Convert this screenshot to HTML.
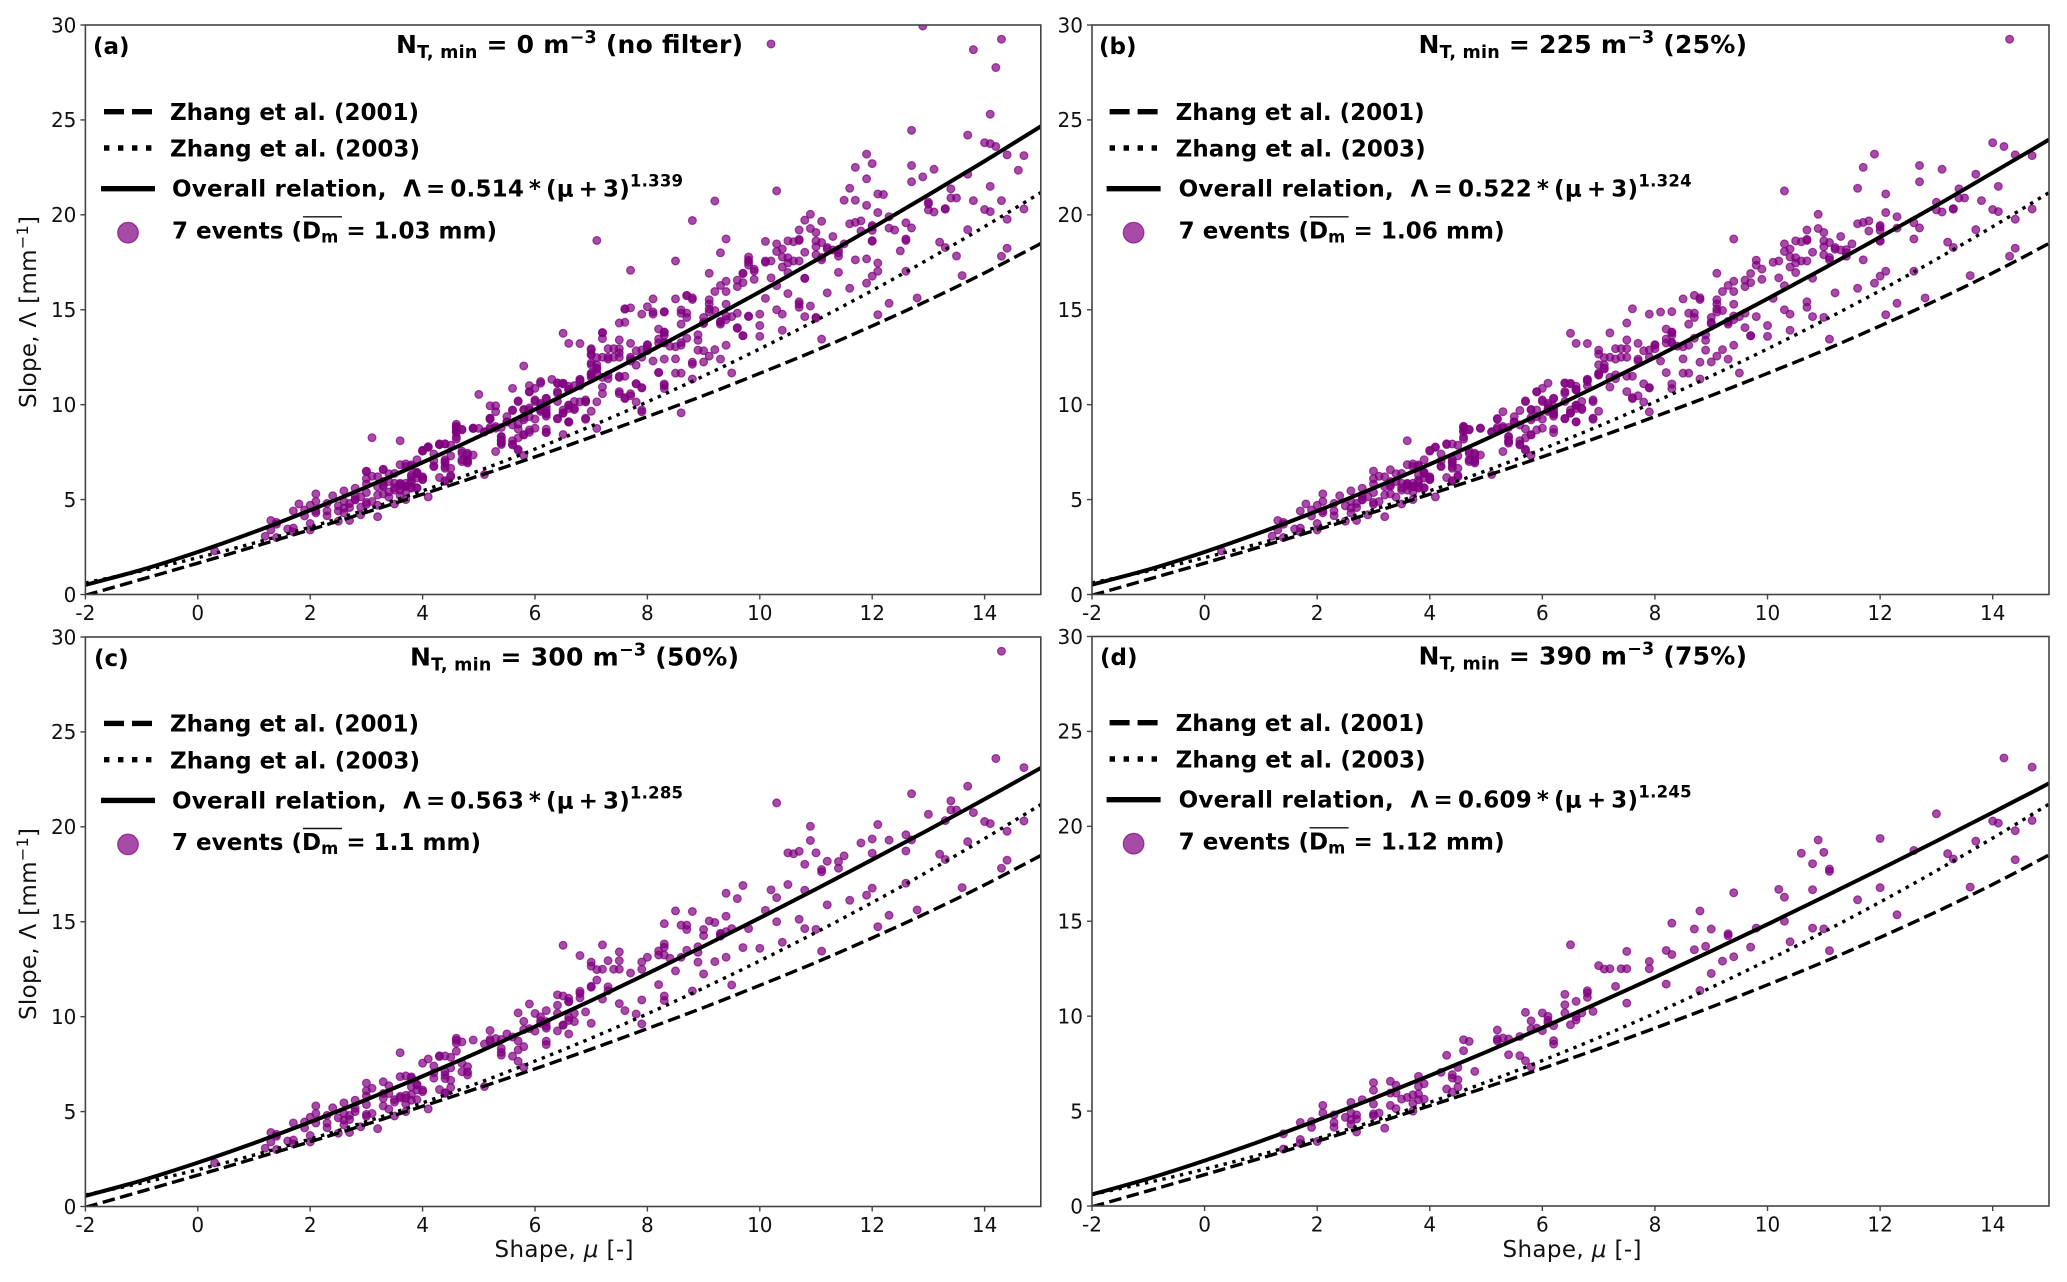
<!DOCTYPE html>
<html lang="en">
<head>
<meta charset="utf-8">
<title>Slope versus shape relations, four filter thresholds</title>
<style>
html,body{margin:0;padding:0;background:#fff;}
svg{display:block;font-family:"DejaVu Sans","Liberation Sans",sans-serif;}
.tick{font-size:20px;fill:#111;}
.axis-title{font-size:23px;fill:#111;}
.title{font-size:25px;font-weight:bold;fill:#000;}
.leg{font-size:23px;font-weight:bold;fill:#000;}
</style>
</head>
<body>
<svg id="figure" xmlns="http://www.w3.org/2000/svg" width="2067" height="1282" viewBox="0 0 2067 1282">
<rect width="2067" height="1282" fill="#fff"/>

<g id="panel-a">
  <g class="plot"></g>
  <text class="leg" x="93" y="54" font-size="22">(a)</text>
  <text class="title" x="396" y="53" textLength="347">N<tspan dy="5" font-size="17.5">T, min</tspan><tspan dy="-5"> = 0 m</tspan><tspan dy="-10" font-size="17.5">−3</tspan><tspan dy="10"> (no filter)</tspan></text>
  <g>
    <line x1="104" x2="153" y1="111.7" y2="111.7" stroke="#000" stroke-width="5.4" stroke-dasharray="20 8"/>
    <text class="leg" x="170" y="120" textLength="249">Zhang et al. (2001)</text>
    <line x1="104" x2="153" y1="148" y2="148" stroke="#000" stroke-width="5.4" stroke-dasharray="5.4 8.6"/>
    <text class="leg" x="170" y="156.7" textLength="250">Zhang et al. (2003)</text>
    <line x1="101" x2="155" y1="188.7" y2="188.7" stroke="#000" stroke-width="5.4"/>
    <text class="leg" x="172" y="196.7" textLength="511">Overall relation,&#160;&#160;Λ&#8201;=&#8201;0.514&#8201;*&#8201;(μ&#8201;+&#8201;3)<tspan dy="-10" font-size="16.5">1.339</tspan></text>
    <circle cx="128" cy="232.7" r="10.3" fill="#800080" fill-opacity="0.7" stroke="#800080" stroke-opacity="0.7" stroke-width="1.2"/>
    <text class="leg" x="172" y="238.3" textLength="325">7 events (D<tspan dy="4" font-size="16.5">m</tspan><tspan dy="-4"> = 1.03 mm)</tspan></text>
    <line x1="303" x2="342" y1="216.8" y2="216.8" stroke="#111" stroke-width="1.4"/>
  </g>
</g>

<g id="panel-b">
  <g class="plot"></g>
  <text class="leg" x="1099" y="54" font-size="22">(b)</text>
  <text class="title" x="1418.5" y="53" textLength="328.5">N<tspan dy="5" font-size="17.5">T, min</tspan><tspan dy="-5"> = 225 m</tspan><tspan dy="-10" font-size="17.5">−3</tspan><tspan dy="10"> (25%)</tspan></text>
  <g transform="translate(1005.6,0)">
    <line x1="104" x2="153" y1="111.7" y2="111.7" stroke="#000" stroke-width="5.4" stroke-dasharray="20 8"/>
    <text class="leg" x="170" y="120" textLength="249">Zhang et al. (2001)</text>
    <line x1="104" x2="153" y1="148" y2="148" stroke="#000" stroke-width="5.4" stroke-dasharray="5.4 8.6"/>
    <text class="leg" x="170" y="156.7" textLength="250">Zhang et al. (2003)</text>
    <line x1="101" x2="155" y1="188.7" y2="188.7" stroke="#000" stroke-width="5.4"/>
    <text class="leg" x="173" y="196.7" textLength="513">Overall relation,&#160;&#160;Λ&#8201;=&#8201;0.522&#8201;*&#8201;(μ&#8201;+&#8201;3)<tspan dy="-10" font-size="16.5">1.324</tspan></text>
    <circle cx="128" cy="232.7" r="10.3" fill="#800080" fill-opacity="0.7" stroke="#800080" stroke-opacity="0.7" stroke-width="1.2"/>
    <text class="leg" x="173" y="238.3" textLength="326">7 events (D<tspan dy="4" font-size="16.5">m</tspan><tspan dy="-4"> = 1.06 mm)</tspan></text>
    <line x1="304" x2="343" y1="216.8" y2="216.8" stroke="#111" stroke-width="1.4"/>
  </g>
</g>

<g id="panel-c">
  <g class="plot"></g>
  <text class="leg" x="94" y="666" font-size="22">(c)</text>
  <text class="title" x="410" y="665.5" textLength="329">N<tspan dy="5" font-size="17.5">T, min</tspan><tspan dy="-5"> = 300 m</tspan><tspan dy="-10" font-size="17.5">−3</tspan><tspan dy="10"> (50%)</tspan></text>
  <g transform="translate(0,611.7)">
    <line x1="104" x2="153" y1="111.7" y2="111.7" stroke="#000" stroke-width="5.4" stroke-dasharray="20 8"/>
    <text class="leg" x="170" y="120" textLength="249">Zhang et al. (2001)</text>
    <line x1="104" x2="153" y1="148" y2="148" stroke="#000" stroke-width="5.4" stroke-dasharray="5.4 8.6"/>
    <text class="leg" x="170" y="156.7" textLength="250">Zhang et al. (2003)</text>
    <line x1="101" x2="155" y1="188.7" y2="188.7" stroke="#000" stroke-width="5.4"/>
    <text class="leg" x="172" y="196.7" textLength="511">Overall relation,&#160;&#160;Λ&#8201;=&#8201;0.563&#8201;*&#8201;(μ&#8201;+&#8201;3)<tspan dy="-10" font-size="16.5">1.285</tspan></text>
    <circle cx="128" cy="232.7" r="10.3" fill="#800080" fill-opacity="0.7" stroke="#800080" stroke-opacity="0.7" stroke-width="1.2"/>
    <text class="leg" x="172" y="238.3" textLength="309">7 events (D<tspan dy="4" font-size="16.5">m</tspan><tspan dy="-4"> = 1.1 mm)</tspan></text>
    <line x1="303" x2="342" y1="216.8" y2="216.8" stroke="#111" stroke-width="1.4"/>
  </g>
</g>

<g id="panel-d">
  <g class="plot"></g>
  <text class="leg" x="1100" y="665" font-size="22">(d)</text>
  <text class="title" x="1418.5" y="664.5" textLength="328.5">N<tspan dy="5" font-size="17.5">T, min</tspan><tspan dy="-5"> = 390 m</tspan><tspan dy="-10" font-size="17.5">−3</tspan><tspan dy="10"> (75%)</tspan></text>
  <g transform="translate(1005.6,611)">
    <line x1="104" x2="153" y1="111.7" y2="111.7" stroke="#000" stroke-width="5.4" stroke-dasharray="20 8"/>
    <text class="leg" x="170" y="120" textLength="249">Zhang et al. (2001)</text>
    <line x1="104" x2="153" y1="148" y2="148" stroke="#000" stroke-width="5.4" stroke-dasharray="5.4 8.6"/>
    <text class="leg" x="170" y="156.7" textLength="250">Zhang et al. (2003)</text>
    <line x1="101" x2="155" y1="188.7" y2="188.7" stroke="#000" stroke-width="5.4"/>
    <text class="leg" x="173" y="196.7" textLength="513">Overall relation,&#160;&#160;Λ&#8201;=&#8201;0.609&#8201;*&#8201;(μ&#8201;+&#8201;3)<tspan dy="-10" font-size="16.5">1.245</tspan></text>
    <circle cx="128" cy="232.7" r="10.3" fill="#800080" fill-opacity="0.7" stroke="#800080" stroke-opacity="0.7" stroke-width="1.2"/>
    <text class="leg" x="173" y="238.3" textLength="326">7 events (D<tspan dy="4" font-size="16.5">m</tspan><tspan dy="-4"> = 1.12 mm)</tspan></text>
    <line x1="304" x2="343" y1="216.8" y2="216.8" stroke="#111" stroke-width="1.4"/>
  </g>
</g>

<text class="axis-title" transform="translate(36,312) rotate(-90)" text-anchor="middle" textLength="192">Slope, Λ [mm<tspan dy="-8" font-size="16">−1</tspan><tspan dy="8">]</tspan></text>
<text class="axis-title" transform="translate(36,924) rotate(-90)" text-anchor="middle" textLength="192">Slope, Λ [mm<tspan dy="-8" font-size="16">−1</tspan><tspan dy="8">]</tspan></text>
<text class="axis-title" x="564" y="1257" text-anchor="middle" textLength="139">Shape, <tspan font-style="italic">μ</tspan> [-]</text>
<text class="axis-title" x="1572" y="1257" text-anchor="middle" textLength="139">Shape, <tspan font-style="italic">μ</tspan> [-]</text>
</svg>

<script>
// Tick values and labels
const xTicks = [-2, 0, 2, 4, 6, 8, 10, 12, 14];
const xTickLabels = ['-2', '0', '2', '4', '6', '8', '10', '12', '14'];
const yTicks = [0, 5, 10, 15, 20, 25, 30];
const yTickLabels = ['0', '5', '10', '15', '20', '25', '30'];

// Curve values, sampled at each integer shape value
const curveMu = [-2,-1,0,1,2,3,4,5,6,7,8,9,10,11,12,13,14,15];
const zhang2001 = [-0.04,0.80,1.65,2.52,3.41,4.33,5.28,6.25,7.25,8.29,9.37,10.48,11.65,12.86,14.15,15.50,16.94,18.49];
const zhang2003 = [0.61,1.24,1.94,2.71,3.55,4.47,5.46,6.52,7.66,8.87,10.15,11.51,12.94,14.44,16.01,17.66,19.38,21.17];
const overallA = [0.51,1.30,2.24,3.29,4.44,5.66,6.96,8.32,9.75,11.22,12.75,14.33,15.94,17.61,19.31,21.05,22.83,24.66];
const overallB = [0.52,1.31,2.24,3.27,4.40,5.60,6.86,8.19,9.57,11.01,12.49,14.01,15.58,17.18,18.83,20.49,22.22,23.96];
const overallC = [0.56,1.37,2.31,3.34,4.45,5.63,6.86,8.14,9.48,10.85,12.27,13.71,15.20,16.72,18.27,19.84,21.46,23.10];
const overallD = [0.61,1.44,2.39,3.42,4.52,5.67,6.87,8.11,9.39,10.71,12.05,13.43,14.84,16.28,17.74,19.22,20.73,22.26];

// Scatter points [shape, slope], grouped by the strictest filter they survive
const pointsInAllPanels = [
[1.4,3.8],[1.4,3.0],[1.7,4.4],[1.7,3.5],[1.7,3.3],[1.9,4.45],[1.9,4.14],[2.0,3.4],[2.1,5.3],[2.1,4.9],[2.3,4.8],[2.3,4.4],[2.3,4.15],[2.5,4.67],[2.6,5.46],[2.6,4.9],[2.6,4.55],[2.6,4.3],[2.7,4.8],[2.7,4.58],[2.7,3.9],[2.8,5.6],
[3.0,6.5],[3.0,6.1],[3.0,5.37],[3.0,4.85],[3.0,4.75],[3.1,4.9],[3.2,4.1],[3.3,6.57],[3.3,5.95],[3.3,5.3],[3.4,6.36],[3.4,5.95],[3.4,5.13],[3.5,5.63],[3.6,5.72],[3.7,5.86],[3.7,5.4],[3.7,5.0],[3.8,6.83],[3.8,6.3],[3.8,5.9],[3.8,5.6],[3.9,6.44],[3.9,5.63],
[4.2,7.04],[4.3,7.94],[4.3,6.16],[4.4,6.92],[4.4,6.74],[4.4,6.0],[4.5,7.3],[4.5,6.65],[4.5,6.27],[4.6,8.76],[4.6,8.18],[4.7,8.67],[4.8,7.09],
[5.2,9.27],[5.2,8.8],[5.2,8.7],[5.3,8.85],[5.4,8.8],[5.4,7.97],[5.6,8.93],[5.6,7.92],[5.7,7.65],[5.8,7.32],[5.7,10.2],[5.8,9.75],[5.8,9.32],[5.9,9.37],
[6.0,10.17],[6.0,9.24],[6.1,9.99],[6.1,9.78],[6.1,9.64],[6.2,9.5],[6.2,8.71],[6.2,8.53],[6.4,11.15],[6.4,10.6],[6.4,10.17],[6.5,9.55],[6.5,13.76],[6.6,10.78],[6.6,9.96],[6.6,9.8],[6.7,10.17],[6.8,11.34],[6.8,11.22],[6.8,10.99],[6.9,10.25],
[7.0,12.66],[7.1,12.48],[7.2,12.5],[7.4,12.5],[7.5,12.5],[7.5,13.41],[7.3,11.57],[7.5,10.69],[7.9,12.88],[7.9,12.5],
[8.2,13.46],[8.3,13.25],[8.3,14.9],[8.2,11.69],[8.7,14.59],[8.7,13.5],[8.8,15.54],[8.8,11.35],[8.9,13.68],
[9.0,14.59],[9.0,12.25],[9.2,12.9],[9.3,14.34],[9.3,14.24],[9.4,16.5],[9.4,13.13],[9.7,13.64],[9.8,14.64],
[10.2,16.68],[10.3,16.27],[10.3,15.0],[10.4,13.92],[10.6,18.58],[10.8,18.03],[10.8,16.66],[10.8,14.64],[10.9,19.28],
[11.0,18.63],[11.0,14.6],[11.1,17.75],[11.1,17.63],[11.1,13.45],[11.6,16.13],
[12.0,19.36],[12.0,16.77],[12.3,15.34],[12.6,18.73],[13.0,20.66],[13.2,18.56],[13.3,18.28],[13.6,16.8],[13.7,19.22],
[14.0,20.28],[14.1,20.17],[14.2,23.6],[14.4,19.77],[14.4,18.24],[14.7,23.12],[14.7,20.31]
];
const pointsThroughPanelC = [
[0.3,2.3],[1.2,3.07],[1.3,3.9],[1.3,3.4],[1.4,3.7],[1.6,3.45],[2.0,3.74],[2.0,4.7],[2.1,4.4],[2.4,5.2],[2.5,3.86],[2.8,5.17],[2.8,5.0],[2.9,4.2],
[3.0,5.82],[3.1,6.23],[3.3,5.7],[3.5,5.5],[3.5,4.77],[3.6,6.84],[3.6,5.8],[3.6,8.1],[3.7,6.88],[3.7,5.7],[3.8,6.76],[3.9,6.4],[3.9,6.14],
[4.0,6.14],[4.0,6.05],[4.0,7.55],[4.1,5.14],[4.1,7.77],[4.2,7.4],[4.2,6.76],[4.3,7.9],[4.4,7.93],[4.4,7.1],[4.4,5.96],[4.5,7.86],[4.6,8.86],[4.6,8.6],[4.7,7.55],[4.7,7.1],[4.8,7.37],[4.8,6.93],[4.9,8.77],
[5.1,6.32],[5.1,8.56],[5.4,8.33],[5.4,8.12],[5.5,9.09],[5.7,8.72],[5.7,8.25],[5.8,8.42],[5.9,10.67],
[6.2,10.32],[6.2,9.74],[6.2,9.39],[6.4,9.25],[6.5,11.09],[6.5,9.56],[6.6,10.97],[6.6,10.8],[6.6,9.09],[6.7,9.74],[6.8,13.22],
[7.0,11.6],[7.0,9.65],[7.0,12.87],[7.2,13.78],[7.3,12.95],[7.5,12.95],[7.1,11.93],[7.0,11.55],[7.3,11.37],[7.2,10.93],[7.6,10.32],[7.8,10.14],[7.9,9.62],[7.7,12.3],[8.0,13.13],[7.9,10.88],
[8.2,13.25],[8.3,13.83],[8.3,13.66],[8.3,11.09],[8.3,10.85],[8.4,13.08],[8.5,15.57],[8.5,12.41],[8.6,14.82],[8.7,14.82],[8.6,13.13],[8.9,13.39],[8.9,12.87],
[9.0,14.27],[9.1,15.04],[9.2,14.96],[9.3,14.39],[9.4,15.29],[9.4,14.48],[9.5,14.64],[9.5,11.67],[9.6,16.22],[9.7,16.91],
[10.0,13.6],[10.1,15.6],[10.3,21.26],[10.5,16.96],[10.7,15.13],[10.5,18.63],[10.7,18.71],[10.9,20.03],
[11.2,18.19],[11.2,15.89],[11.4,18.17],[11.4,17.82],[11.5,18.47],[11.8,19.15],[11.9,16.4],[12.0,18.61],[12.1,20.12],[12.1,14.74],[12.3,19.3],[12.6,19.58],[12.6,17.03],[12.7,19.31],[12.7,21.74],[12.8,15.62],
[13.3,20.33],[13.4,21.37],[13.4,20.89],[13.5,20.89],[13.7,22.14],[13.8,20.75],[14.3,17.82],[14.3,29.25]
];
const pointsThroughPanelB = [
[14.0,23.8],[14.4,23.16],[11.9,23.2],[11.7,22.5],[12.7,22.6],[13.1,22.4],[11.6,21.4],[12.1,21.1],[14.1,21.5],[13.0,20.26],[13.1,20.15],[13.3,20.3],[12.3,19.9],[12.0,19.44],[12.0,19.18],[11.6,19.53],[11.7,19.6],[11.8,19.68],[10.7,19.2],[11.0,19.07],
[10.3,18.47],[10.3,18.07],[10.4,18.2],[10.7,18.65],[11.0,18.32],[11.1,18.54],[11.0,17.9],[11.2,18.28],[11.3,18.15],[11.3,18.86],[11.4,18.0],[11.7,17.63],[12.0,18.64],[12.1,17.03],
[10.2,17.57],[10.1,17.5],[10.4,17.25],[10.5,17.46],[10.6,17.57],[10.4,17.78],[10.5,17.74],[10.7,17.57],[9.8,17.61],[9.8,17.35],[9.9,17.14],[9.9,16.6],[9.1,16.92],[9.4,18.73],[9.6,16.56],[9.7,16.43],[9.3,16.28],[9.2,15.96],[9.4,15.96],[9.1,15.53],[9.1,15.31],[9.1,14.88],[9.0,14.34],[9.4,14.67],[9.6,14.82],[10.0,14.17],[10.4,14.77],[10.7,15.42],[9.6,14.06],[9.7,13.63],[9.1,12.56],[9.3,12.4],[8.8,12.24],
[8.7,15.76],[8.8,15.63],[8.6,14.24],[8.1,14.88],[7.9,14.77],[7.6,15.05],[7.5,14.3],[6.6,13.23],[7.7,13.23],[8.0,13.16],[8.2,13.98],[8.3,13.8],[8.3,13.27],[8.5,13.05],[8.5,11.66],[8.6,11.66],[7.3,12.4],[7.4,12.95],[7.0,12.1],[7.1,12.1],[7.0,11.66],[7.1,11.87],[7.2,11.44],[7.7,12.4],[7.8,12.84],[8.0,12.95],[8.1,12.3],[7.8,11.1],[7.9,10.9],[7.5,11.5],[7.6,11.5],[7.6,10.37],[7.7,10.47],[6.9,9.29],
[1.8,4.77],[2.1,4.3],[2.8,4.98],[2.9,5.15],[3.2,6.2],[3.2,5.68],[3.2,5.24],[3.3,5.77],[3.5,6.38],[3.5,5.86],[3.6,5.86],[3.6,5.5],[3.7,6.74],[3.7,5.68],[3.8,6.03],[3.8,5.68],[3.9,6.38],[3.9,5.6],[4.0,6.2],[4.0,6.07],[4.0,7.6],[4.1,7.75],[3.9,7.1],[4.2,6.74],[4.4,7.0],[4.4,6.65],[4.5,6.2],
[4.6,8.84],[4.6,8.58],[4.6,8.3],[4.7,8.7],[4.9,8.75],[4.7,7.44],[4.7,7.0],[4.8,7.44],[4.8,7.0],[4.9,7.35],[5.1,8.58],[5.2,9.23],[5.3,9.63],[5.3,8.76],[5.3,7.53],[5.4,8.3],[5.4,8.05],[5.5,9.37],[5.5,9.1],[5.6,9.69],[5.6,8.1],[5.6,7.88],[5.7,10.16],[5.7,7.6],[5.8,9.72],[5.8,9.2],[5.8,8.4],[5.9,10.69],[5.9,9.72],[5.9,8.67],
[6.0,10.86],[6.0,10.25],[6.0,8.76],[6.1,11.13],[6.1,10.07],[6.1,9.72],[6.2,10.34],[6.2,9.9],[6.2,9.55],[6.4,11.13],[6.4,10.69],[6.4,9.28],[6.5,11.13],[6.5,9.72],[6.6,10.77],[6.6,9.98],[6.6,9.1],[6.7,9.81],[6.8,11.3],[6.9,10.16],[6.9,9.23]
];
const pointsOnlyPanelA = [
[12.9,29.95],[10.2,29.0],[13.8,28.7],[14.2,27.76],[14.1,25.3],[12.7,24.45],[13.7,24.2],[14.1,23.75],[14.6,22.35],[12.0,22.7],[12.9,22.0],[11.9,21.9],[12.2,21.07],[9.2,20.73],[14.3,20.75],[11.5,20.77],[11.7,20.77],[11.9,20.5],[8.8,19.7],[11.1,19.66],[10.8,19.72],[12.4,19.2],[13.0,20.58],[7.1,18.65],
[8.5,17.57],[7.7,17.08],[9.3,18.0],[10.1,18.6],[9.8,17.78],[9.8,17.5],[9.7,16.92],[9.9,17.03],[10.1,17.57],[10.8,16.65],[12.5,18.1],[12.6,18.65],[13.5,17.83],[11.9,17.68],[11.4,16.97],[12.1,17.46],
[11.0,14.56],[10.9,15.2],[10.7,15.3],[10.5,15.85],[10.0,14.77],[9.8,14.67],[9.6,14.02],[9.0,12.84],[8.8,12.13],[8.6,13.27],[8.6,9.57],[8.3,11.0],[8.3,12.4],[8.2,11.7],[7.8,11.1],[7.9,9.72],
[8.1,14.77],[7.7,15.1],[7.6,14.34],[7.6,15.03],[8.3,14.88],[8.1,15.57],[8.0,15.16],[8.7,15.74],[8.6,14.99],[7.2,13.8],[7.2,13.48],[7.0,12.95],[7.0,12.62],[7.0,12.2],[7.1,11.66],[7.0,11.44],[7.3,12.5],[7.5,12.73],[7.7,12.5],[8.0,12.84],[7.8,12.08],[7.5,11.44],[7.5,10.58],[7.7,10.58],[7.2,10.58],[7.1,10.15],[6.9,10.15],[6.8,10.15],
[5.8,12.04],[5.0,10.54],[5.6,10.86],[5.9,11.0],[6.1,11.22],[6.3,11.33],[6.5,11.12],[6.7,11.0],[5.2,9.94],[5.3,9.94],[5.2,9.29],[5.4,8.15],[5.4,7.9],[5.0,8.75],[5.6,9.72],[5.9,9.83],[5.7,8.97],[5.9,8.54],[6.2,8.54],[6.5,8.43],[6.6,9.08],[7.1,8.75],
[3.1,8.26],[4.6,8.97],[4.6,8.54],[4.9,8.75],[4.3,7.89],[4.4,7.94],[4.0,7.57],[4.1,7.78],[3.0,6.47],[3.3,6.6],[3.8,6.2],[3.4,5.4],[3.6,5.2],[2.9,4.6],[2.5,4.4],[3.2,4.7]
];

// Which point groups and overall curve each panel shows
const panelSets = {
  a: { groups: [pointsInAllPanels, pointsThroughPanelC, pointsThroughPanelB, pointsOnlyPanelA], overall: overallA },
  b: { groups: [pointsInAllPanels, pointsThroughPanelC, pointsThroughPanelB], overall: overallB },
  c: { groups: [pointsInAllPanels, pointsThroughPanelC], overall: overallC },
  d: { groups: [pointsInAllPanels], overall: overallD }
};

// Axes rectangle of each panel
const frames = {
  a: { left: 85.4, right: 1040.8, top: 25, bottom: 594.5 },
  b: { left: 1092, right: 2049, top: 25, bottom: 594.5 },
  c: { left: 85.4, right: 1040.8, top: 637, bottom: 1206.5 },
  d: { left: 1092, right: 2049, top: 636.5, bottom: 1206 }
};
const xDomain = [-2, 15];
const yDomain = [0, 30];

const SVG_NS = 'http://www.w3.org/2000/svg';

function make(tag, attrs, parent) {
  const el = document.createElementNS(SVG_NS, tag);
  for (const k in attrs) el.setAttribute(k, attrs[k]);
  parent.appendChild(el);
  return el;
}
function xScale(frame, v) {
  return frame.left + (v - xDomain[0]) / (xDomain[1] - xDomain[0]) * (frame.right - frame.left);
}
function yScale(frame, v) {
  return frame.bottom - (v - yDomain[0]) / (yDomain[1] - yDomain[0]) * (frame.bottom - frame.top);
}
function smoothPath(frame, xs, ys) {
  const p = xs.map((x, i) => [xScale(frame, x), yScale(frame, ys[i])]);
  let d = 'M' + p[0][0].toFixed(2) + ' ' + p[0][1].toFixed(2);
  for (let i = 0; i < p.length - 1; i++) {
    const a = p[Math.max(i - 1, 0)], b = p[i], c = p[i + 1], e = p[Math.min(i + 2, p.length - 1)];
    const c1x = b[0] + (c[0] - a[0]) / 6, c1y = b[1] + (c[1] - a[1]) / 6;
    const c2x = c[0] - (e[0] - b[0]) / 6, c2y = c[1] - (e[1] - b[1]) / 6;
    d += 'C' + c1x.toFixed(2) + ' ' + c1y.toFixed(2) + ' ' + c2x.toFixed(2) + ' ' + c2y.toFixed(2) + ' ' + c[0].toFixed(2) + ' ' + c[1].toFixed(2);
  }
  return d;
}

const rootSvg = document.getElementById('figure');
const defs = make('defs', {}, rootSvg);

function drawPanel(key) {
  const frame = frames[key];
  const set = panelSets[key];
  const plot = document.querySelector('#panel-' + key + ' .plot');

  const clip = make('clipPath', { id: 'clip-' + key }, defs);
  make('rect', { x: frame.left, y: frame.top, width: frame.right - frame.left, height: frame.bottom - frame.top }, clip);

  const marks = make('g', { 'clip-path': 'url(#clip-' + key + ')' }, plot);
  
  

  set.groups.forEach(function (group) {
    group.forEach(function (pt) {
      const dot = make('circle', {
        cx: xScale(frame, pt[0]).toFixed(2),
        cy: yScale(frame, pt[1]).toFixed(2),
        r: 3.9,
        fill: '#800080',
        'fill-opacity': 0.7,
        stroke: '#800080',
        'stroke-opacity': 0.7,
        'stroke-width': 1.2
      }, marks);
      
      
    });
  });

  const dashed = make('path', { d: smoothPath(frame, curveMu, zhang2001), fill: 'none', stroke: '#000', 'stroke-width': 3.4, 'stroke-dasharray': '12.6 5.4' }, marks);
  
  

  const dotted = make('path', { d: smoothPath(frame, curveMu, zhang2003), fill: 'none', stroke: '#000', 'stroke-width': 3.4, 'stroke-dasharray': '3.4 5.6' }, marks);
  
  

  const solid = make('path', { d: smoothPath(frame, curveMu, set.overall), fill: 'none', stroke: '#000', 'stroke-width': 4 }, marks);
  
  

  const spine = make('rect', { x: frame.left, y: frame.top, width: frame.right - frame.left, height: frame.bottom - frame.top, fill: 'none', stroke: '#444', 'stroke-width': 1.6 }, plot);
  
  

  xTicks.forEach(function (t, i) {
    const x = xScale(frame, t);
    const mark = make('line', { x1: x, x2: x, y1: frame.bottom, y2: frame.bottom + 5, stroke: '#444', 'stroke-width': 1.4 }, plot);
    
    
    const label = make('text', { x: x, y: frame.bottom + 25.5, 'text-anchor': 'middle', class: 'tick' }, plot);
    
    
    label.textContent = xTickLabels[i];
  });
  yTicks.forEach(function (t, i) {
    const y = yScale(frame, t);
    const mark = make('line', { x1: frame.left - 5, x2: frame.left, y1: y, y2: y, stroke: '#444', 'stroke-width': 1.4 }, plot);
    
    
    const label = make('text', { x: frame.left - 9, y: y + 7.3, 'text-anchor': 'end', class: 'tick' }, plot);
    
    
    label.textContent = yTickLabels[i];
  });
}

['a', 'b', 'c', 'd'].forEach(drawPanel);
</script>
</body>
</html>
